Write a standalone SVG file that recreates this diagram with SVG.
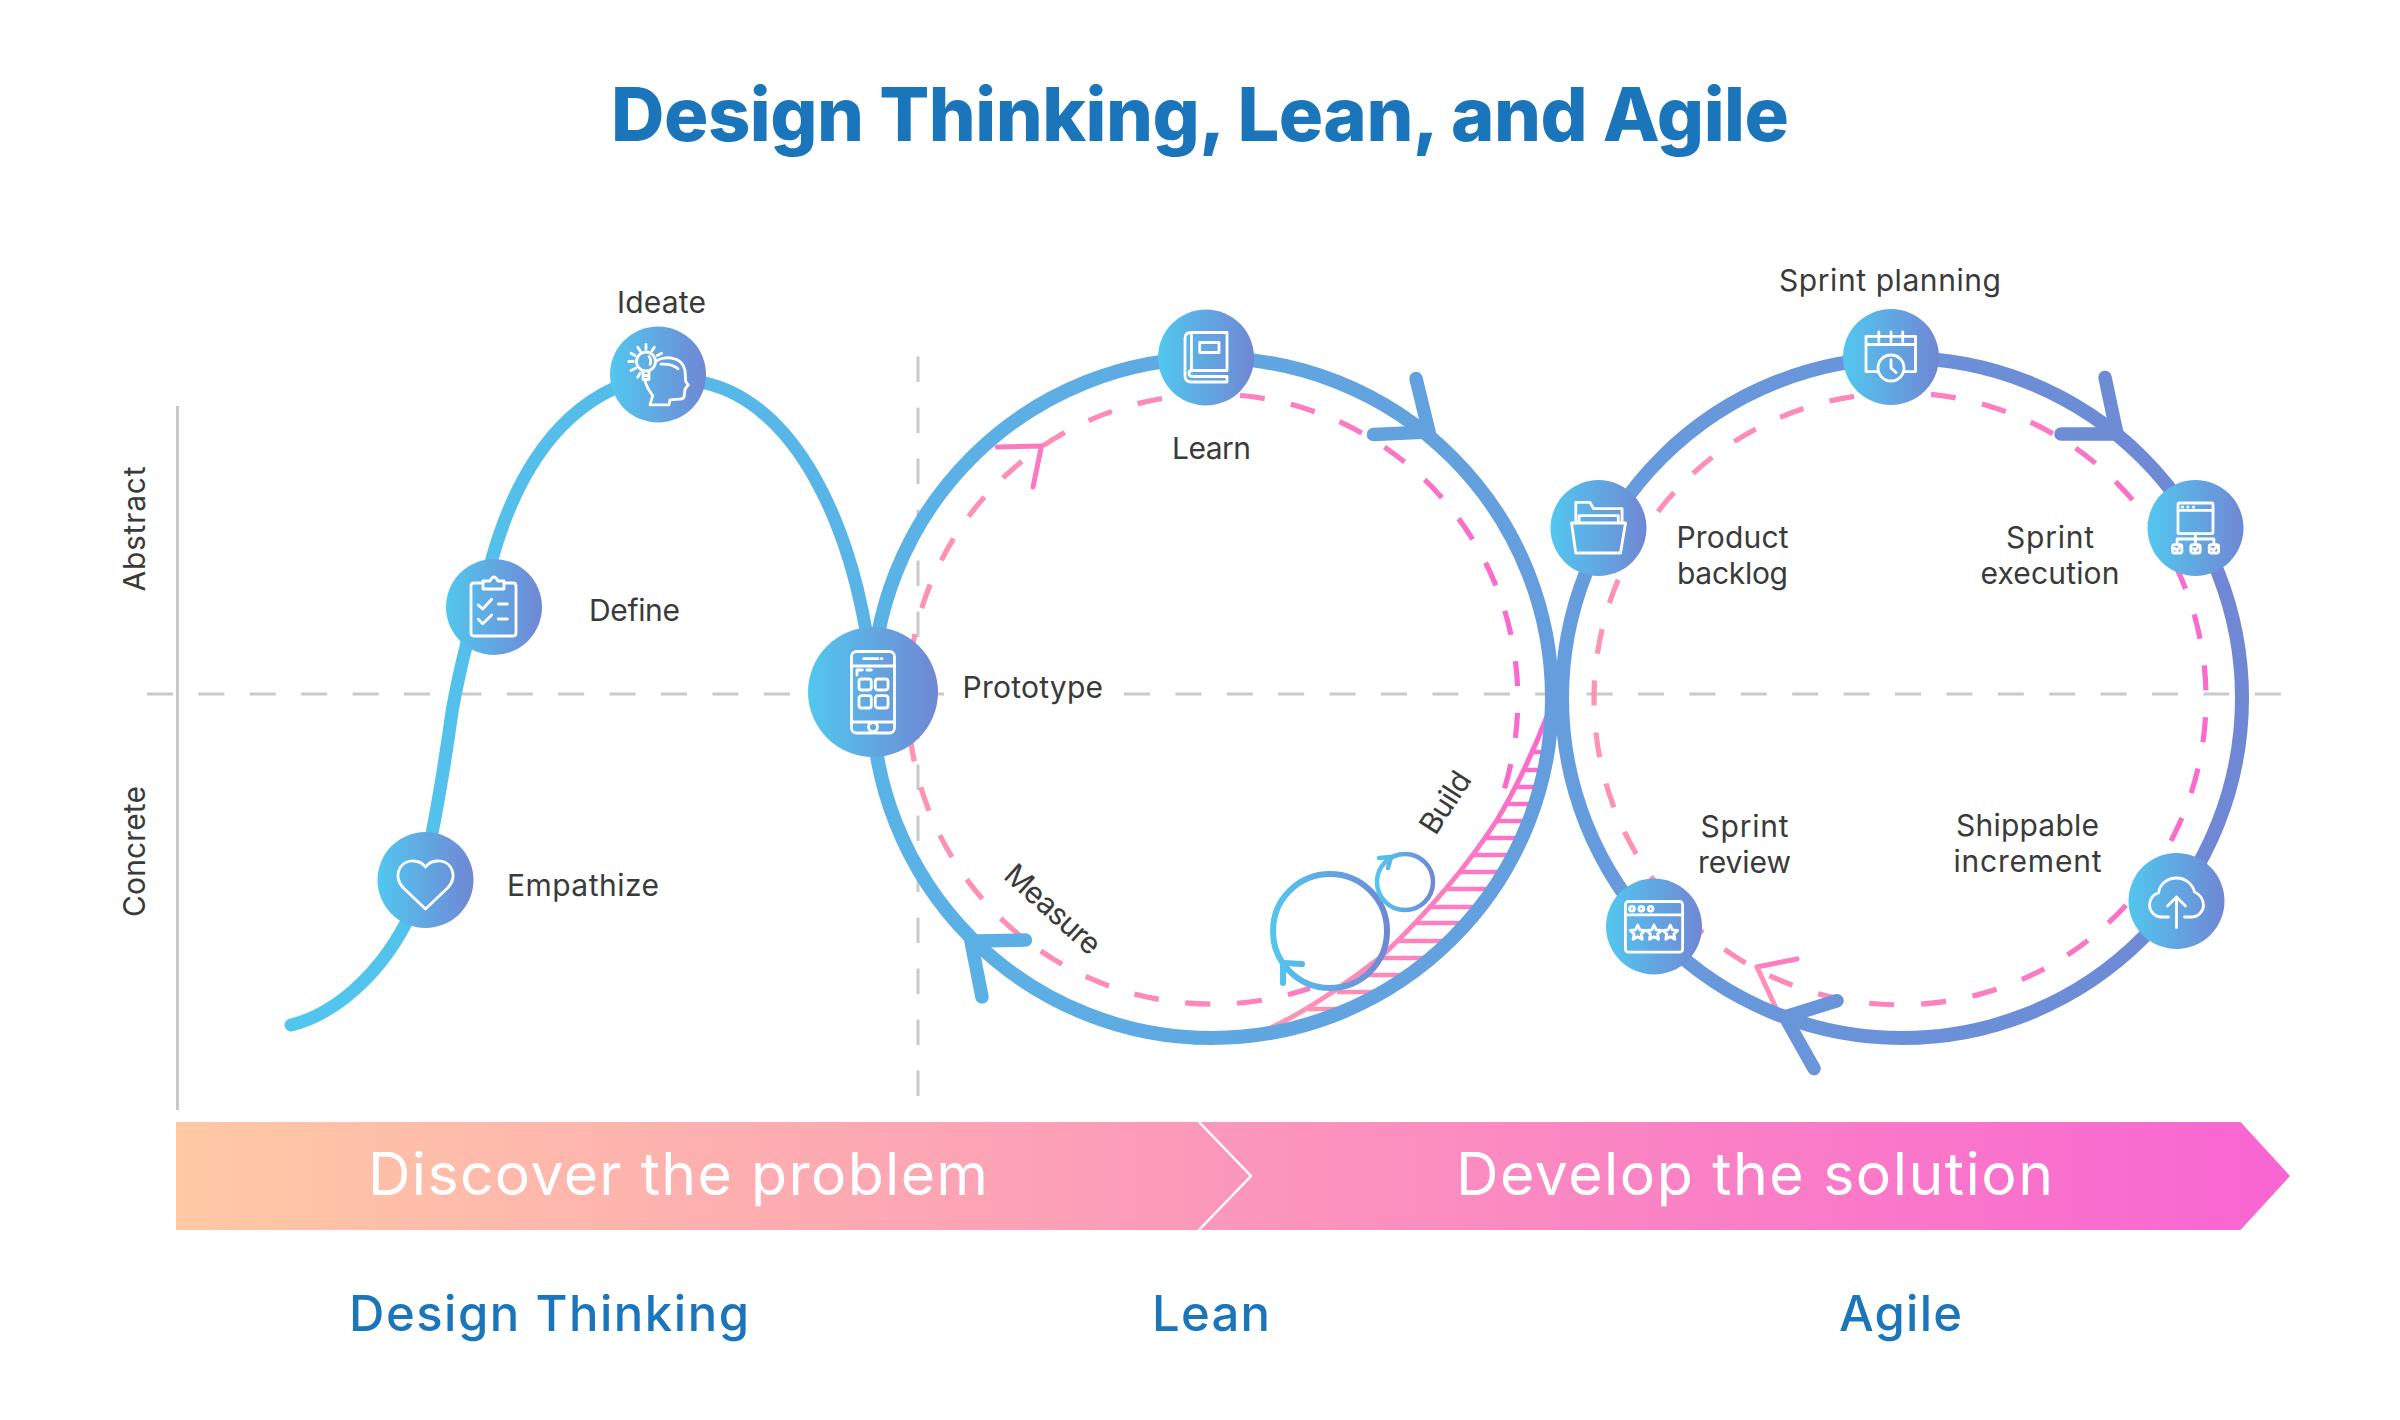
<svg xmlns="http://www.w3.org/2000/svg" xmlns:xlink="http://www.w3.org/1999/xlink" width="2400" height="1420" viewBox="0 0 2400 1420">
<defs>
<linearGradient id="gNode" x1="0" y1="0" x2="1" y2="0"><stop offset="0" stop-color="#52c7ef"/><stop offset="1" stop-color="#7087d4"/></linearGradient>
<linearGradient id="gLine" gradientUnits="userSpaceOnUse" x1="291" y1="0" x2="2242" y2="0"><stop offset="0" stop-color="#50c6ee"/><stop offset="1" stop-color="#7087d4"/></linearGradient>
<linearGradient id="gPink1" gradientUnits="userSpaceOnUse" x1="908" y1="0" x2="1518" y2="0"><stop offset="0" stop-color="#ff93b0"/><stop offset="0.5" stop-color="#fe85bb"/><stop offset="1" stop-color="#fa69ce"/></linearGradient>
<linearGradient id="gPink2" gradientUnits="userSpaceOnUse" x1="1595" y1="0" x2="2210" y2="0"><stop offset="0" stop-color="#ff93b0"/><stop offset="0.5" stop-color="#fe85bb"/><stop offset="1" stop-color="#fa69ce"/></linearGradient>
<linearGradient id="gHatch" gradientUnits="userSpaceOnUse" x1="1268" y1="1030" x2="1548" y2="714"><stop offset="0" stop-color="#ff96b0"/><stop offset="1" stop-color="#fb66cf"/></linearGradient>
<linearGradient id="gSpin1" gradientUnits="userSpaceOnUse" x1="1270" y1="0" x2="1390" y2="0"><stop offset="0" stop-color="#52c7ef"/><stop offset="1" stop-color="#7087d4"/></linearGradient>
<linearGradient id="gSpin2" gradientUnits="userSpaceOnUse" x1="1375" y1="0" x2="1435" y2="0"><stop offset="0" stop-color="#52c7ef"/><stop offset="1" stop-color="#7087d4"/></linearGradient>
<linearGradient id="gBanner" gradientUnits="userSpaceOnUse" x1="176" y1="0" x2="2290" y2="0"><stop offset="0" stop-color="#ffc9a4"/><stop offset="1" stop-color="#f865d2"/></linearGradient>
<path id="star" d="M0,-7.5 L2.2,-2.6 7.4,-2 3.5,1.6 4.6,6.8 0,4.2 -4.6,6.8 -3.5,1.6 -7.4,-2 -2.2,-2.6Z"/>
</defs>
<style>
.t{font-family:"Inter","Open Sans","Liberation Sans",sans-serif;font-size:30px;fill:#3a3a3a;font-weight:400}
.m{text-anchor:middle}
.h{font-family:"Inter","Liberation Sans",sans-serif;font-size:49px;font-weight:500;fill:#1a75bb;text-anchor:middle}
.b{font-family:"Inter","Liberation Sans",sans-serif;font-size:59px;font-weight:400;fill:#fff;text-anchor:middle}
.grid{fill:none;stroke:#c9c9c9;stroke-width:3}
.dash{stroke-dasharray:26 25.4}
.big{fill:none;stroke:url(#gLine);stroke-width:14}
.arw{fill:none;stroke-width:13.5;stroke-linecap:round;stroke-linejoin:miter}
.pa{fill:none;stroke-width:5;stroke-linecap:round}
.hl{stroke:url(#gHatch);stroke-width:4.5;fill:none}
.bg{fill:url(#gNode)}
.ic{fill:none;stroke:#fff;stroke-width:2.8;stroke-linecap:round;stroke-linejoin:round}
.wf{fill:#fff;stroke:none}
</style>
<rect width="2400" height="1420" fill="#fff"/>
<text id="title" x="1200" y="140.5" text-anchor="middle" font-family="Inter,'Liberation Sans',sans-serif" font-size="74" font-weight="800" fill="#1a75bb" textLength="1178">Design Thinking, Lean, and Agile</text>

<g id="connectors">
  <line class="grid" x1="177.5" y1="406" x2="177.5" y2="1110"/>
  <line class="grid dash" x1="147" y1="694" x2="945" y2="694"/>
  <line class="grid dash" x1="1124" y1="694" x2="2293" y2="694"/>
  <line class="grid" stroke-dasharray="25.5 25.5" x1="918" y1="356.5" x2="918" y2="1106"/>
  <path id="hatch-curve" d="M1268,1029 C1300,1015 1345,985 1381,957 C1420,920 1465,870 1497,820 C1515,790 1532,755 1548,714" fill="none" stroke="url(#gHatch)" stroke-width="5"/>
  <g id="hatch">
    <line class="hl" x1="1532" y1="752" x2="1548" y2="752"/>
    <line class="hl" x1="1523" y1="770" x2="1544" y2="770"/>
    <line class="hl" x1="1514" y1="787" x2="1540" y2="787"/>
    <line class="hl" x1="1506" y1="804" x2="1535" y2="804"/>
    <line class="hl" x1="1497" y1="821" x2="1529" y2="821"/>
    <line class="hl" x1="1486" y1="838" x2="1522" y2="838"/>
    <line class="hl" x1="1473" y1="855" x2="1514" y2="855"/>
    <line class="hl" x1="1460" y1="872" x2="1504" y2="872"/>
    <line class="hl" x1="1445" y1="889" x2="1493" y2="889"/>
    <line class="hl" x1="1431" y1="907" x2="1480" y2="907"/>
    <line class="hl" x1="1417" y1="923" x2="1467" y2="923"/>
    <line class="hl" x1="1399" y1="941" x2="1450" y2="941"/>
    <line class="hl" x1="1381" y1="958" x2="1431" y2="958"/>
    <line class="hl" x1="1360" y1="975" x2="1409" y2="975"/>
    <line class="hl" x1="1337" y1="992" x2="1383" y2="992"/>
    <line class="hl" x1="1308" y1="1009" x2="1349" y2="1009"/>
  </g>
  <path id="lean-dash" fill="none" stroke-width="5.2" stroke-dasharray="25 26.7" stroke-dashoffset="1.9" stroke="url(#gPink1)" d="M1310,988.3 A305,305 0 1 1 1504,790"/>
  <path id="agile-dash" fill="none" stroke-width="5.2" stroke-dasharray="25 27" stroke="url(#gPink2)" d="M1931,394.4 A306,306 0 1 1 1930,394.3"/>
  <path class="pa" stroke="#fd78c3" d="M997,447 L1041.5,446 L1033,487"/>
  <path class="pa" stroke="#fd7ec0" d="M1797,959 L1757,967"/>
  <path class="pa" stroke="#ff90b4" d="M1757,967 L1775,1006"/>
  <path id="dt-curve" d="M291,1025 C335,1014 378,976 406,923 C424,890 441,790 452,712 C460,665 475,610 492,559 C510,495 545,420 615,388 C645,373 675,374 705,383 C790,402 855,515 873,680" fill="none" stroke="url(#gLine)" stroke-width="13" stroke-linecap="round"/>
  <circle class="big" cx="1212" cy="698" r="340"/>
  <circle class="big" cx="1902" cy="698" r="340"/>
  <path class="arw" stroke="url(#gLine)" d="M1416,378.5 L1429,432 L1373.5,434.6"/>
  <path class="arw" stroke="url(#gLine)" d="M1025.5,940 L971,941 L982,997"/>
  <path class="arw" stroke="url(#gLine)" d="M2105,377.4 L2117,434 L2061,434"/>
  <path class="arw" stroke="url(#gLine)" d="M1837,1000.7 L1785,1017 L1814,1068.5"/>
  <g id="spin-large" fill="none" stroke="url(#gSpin1)">
    <circle cx="1330" cy="931" r="57" stroke-width="6"/>
    <path d="M1302,964 L1283,963 L1283,983" stroke-width="6" stroke-linecap="round"/>
  </g>
  <g id="spin-small" fill="none" stroke="url(#gSpin2)">
    <circle cx="1405" cy="882" r="28" stroke-width="4.5"/>
    <path d="M1379,858 L1391,857 L1388,868" stroke-width="4.5" stroke-linecap="round"/>
  </g>
</g>

<g id="empathize" transform="translate(425.5,880)"><circle class="bg" r="48"/>
  <path class="ic" stroke-width="3.4" d="M0,-13 C-5,-20 -18,-22 -25,-13 C-30,-5 -27,3 -22,8 L0,29 L22,8 C27,3 30,-5 25,-13 C18,-22 5,-20 0,-13Z"/></g>
<text class="t" x="507" y="895.5" textLength="152">Empathize</text>

<g id="define" transform="translate(494,607)"><circle class="bg" r="48"/>
  <g class="ic"><path d="M-11,-24 H-20 Q-23,-24 -23,-21 V26 Q-23,29 -20,29 H19 Q22,29 22,26 V-21 Q22,-24 19,-24 H10"/>
  <path d="M-11,-18 V-26 H-4 Q-2,-30 0,-30 Q2,-30 4,-26 H10 V-18Z"/>
  <path d="M-15.7,-2 L-11.3,2 L-2.3,-7.7 M-15.7,12.3 L-11.3,16.7 L-2.3,8 M4.3,-3 H13.3 M4.3,12 H13.3"/></g></g>
<text class="t" x="589" y="621" textLength="91">Define</text>

<g id="ideate" transform="translate(658,374.5)"><circle class="bg" r="48"/>
  <g class="ic" stroke-width="2.4"><circle cx="-12" cy="-13" r="9.5"/>
  <path d="M-15,-3 V5 H-9 V-3 M-15,1 H-9"/>
  <path d="M-12,-30 V-25.3 M-20.3,-27.3 L-18,-23.7 M-3.7,-27.3 L-6,-23.7 M-27,-21.3 L-23,-19 M3.7,-21.3 L-0.7,-19 M-29.3,-13 H-24.7 M-27,-4 L-22.3,-6.3 M-20.3,2.7 L-18,-1.3"/>
  <path d="M-1.3,-13.7 C4,-18 24,-20 27,-4 L27.7,7 L30.3,10.3 L27,14.7 L26.3,21 Q26,24.7 22,24.7 L12,25.3 L11,30.3 L-8,30.3 L-5.3,21 C-8,17 -12,13 -13,5.3"/>
  <path d="M3,-10.3 Q14,-11 20,-5.7 M-9,-18 Q-6,-14 -8,-10"/></g></g>
<text class="t" x="617" y="313" textLength="89">Ideate</text>

<g id="prototype" transform="translate(873,692)"><circle class="bg" r="65"/>
  <g class="ic"><rect x="-21.5" y="-40.5" width="43" height="81.5" rx="5"/>
  <path d="M-21.5,-26 H21.5 M-21.5,30 H21.5 M-9.3,-33.3 H5 M8.3,-33.3 H9 M-16,-17 V-22 H-10.7 M-6,-22 H-1.7"/>
  <circle cx="0" cy="35" r="4.5"/>
  <rect x="-14" y="-13" width="12.3" height="11" rx="2.5"/><rect x="2.3" y="-13" width="12.7" height="11" rx="2.5"/>
  <rect x="-14" y="3.7" width="12.3" height="12.3" rx="2.5"/><rect x="2.3" y="3.7" width="12.7" height="12.3" rx="2.5"/></g></g>
<text class="t" x="962.5" y="698" textLength="140.5">Prototype</text>

<g id="learn" transform="translate(1206,357.5)"><circle class="bg" r="48"/>
  <g class="ic"><path d="M21,-25 H-15 Q-21,-25 -21,-19 V18 Q-21,24.5 -15,24.5 H21 V19 H-14 Q-17,19 -17,16 Q-17,13 -14,13 H21 V-25"/>
  <path d="M-14.5,-25 V13"/><rect x="-6.3" y="-15" width="19.3" height="10"/></g></g>
<text class="t" x="1172" y="458.5" textLength="79">Learn</text>

<text class="t m" transform="translate(1046,917) rotate(42)" textLength="118">Measure</text>
<text class="t m" transform="translate(1454,808) rotate(-57)" textLength="68">Build</text>

<g id="sprint-planning" transform="translate(1891,357)"><circle class="bg" r="48"/>
  <g class="ic"><path d="M-13,14.6 H-25 V-20.6 H24.5 V14.6 H13.5 M-25,-12.5 H24.5 M-12.2,-25 V-15.5 M0,-25 V-15.5 M11.7,-25 V-15.5"/>
  <circle cx="0" cy="11" r="13"/><path d="M0,3 V11 L5,15.5"/></g></g>
<text class="t" x="1779" y="290.5" textLength="222">Sprint planning</text>

<g id="product-backlog" transform="translate(1598.5,528)"><circle class="bg" r="48"/>
  <g class="ic"><path d="M-27,-5 H27 L22,25 H-22.7Z"/>
  <path d="M-22.7,-5 V-25.7 H-8.5 L-5,-19.3 H23.6 V-5 M-19.4,-5.7 V-12.3 H19.8 V-5.7"/></g></g>
<text class="t m" x="1732.5" y="548" textLength="112">Product</text>
<text class="t m" x="1732.5" y="583.5" textLength="111">backlog</text>

<g id="sprint-execution" transform="translate(2195.5,528)"><circle class="bg" r="48"/>
  <g class="ic" stroke-width="2.3"><rect x="-17.5" y="-25" width="35" height="30.7" rx="1.5"/>
  <path d="M-17.5,-17.7 H17.5 M0,5.7 V16.7 M-18.4,16.7 V11 H18.4 V16.7"/>
  <rect x="-23" y="16.7" width="9.4" height="8.3" rx="2"/><rect x="-4.7" y="16.7" width="9.4" height="8.3" rx="2"/><rect x="13.7" y="16.7" width="9.4" height="8.3" rx="2"/>
  <path d="M-20.5,20.5 L-18.5,22.5 L-16,19 M-2.2,20.5 L-0.2,22.5 L2.3,19 M16.2,20.5 L18.2,22.5 L20.7,19"/></g>
  <circle class="wf" cx="-13" cy="-21" r="1.6"/><circle class="wf" cx="-7.6" cy="-21" r="1.6"/><circle class="wf" cx="-1.9" cy="-21" r="1.6"/></g>
<text class="t m" x="2050" y="548" textLength="88">Sprint</text>
<text class="t m" x="2050" y="583.5" textLength="139">execution</text>

<g id="shippable-increment" transform="translate(2176.5,901)"><circle class="bg" r="48"/>
  <g class="ic"><path d="M-8,16 H-15 C-22,16 -27,10 -27,4 C-27,-2 -23,-7 -18,-8 C-17,-17 -9,-23 0,-23 C9,-23 16,-17 18,-9 C23,-7 27,-2 27,4 C27,10 22,16 15,16 H8"/>
  <path d="M0,26.7 V-4 M-9,5 L0,-4 L9,5"/></g></g>
<text class="t m" x="2027.5" y="836" textLength="143">Shippable</text>
<text class="t m" x="2027.5" y="872" textLength="148">increment</text>

<g id="sprint-review" transform="translate(1654,926.5)"><circle class="bg" r="48"/>
  <g class="ic"><rect x="-28.6" y="-25" width="57.2" height="50.7" rx="3"/><path d="M-28.6,-11.7 H28.6"/>
  <circle cx="-22" cy="-17.8" r="2.4"/><circle cx="-12.6" cy="-17.8" r="2.4"/><circle cx="-3.3" cy="-17.8" r="2.4"/></g>
  <g class="ic" stroke-width="2.4"><use xlink:href="#star" href="#star" x="-16.3" y="6"/><use xlink:href="#star" href="#star" x="0" y="6"/><use xlink:href="#star" href="#star" x="16.3" y="6"/></g></g>
<text class="t m" x="1744.5" y="837" textLength="88">Sprint</text>
<text class="t m" x="1744.5" y="873" textLength="93">review</text>

<text class="t m" transform="translate(145,529) rotate(-90)" textLength="125">Abstract</text>
<text class="t m" transform="translate(145,851.5) rotate(-90)" textLength="131">Concrete</text>

<g id="banner">
  <path fill="url(#gBanner)" d="M176,1122 H2240.5 L2290,1176 L2240.5,1230 H176Z"/>
  <path fill="none" stroke="#fff" stroke-width="2.5" d="M1199,1122 L1251,1176 L1199,1230"/>
  <text class="b" x="678" y="1194.5" textLength="620">Discover the problem</text>
  <text class="b" x="1754.5" y="1194.5" textLength="597">Develop the solution</text>
</g>
<text class="h" x="549" y="1331" textLength="400">Design Thinking</text>
<text class="h" x="1211" y="1331" textLength="118">Lean</text>
<text class="h" x="1900.5" y="1331" textLength="123">Agile</text>
</svg>
